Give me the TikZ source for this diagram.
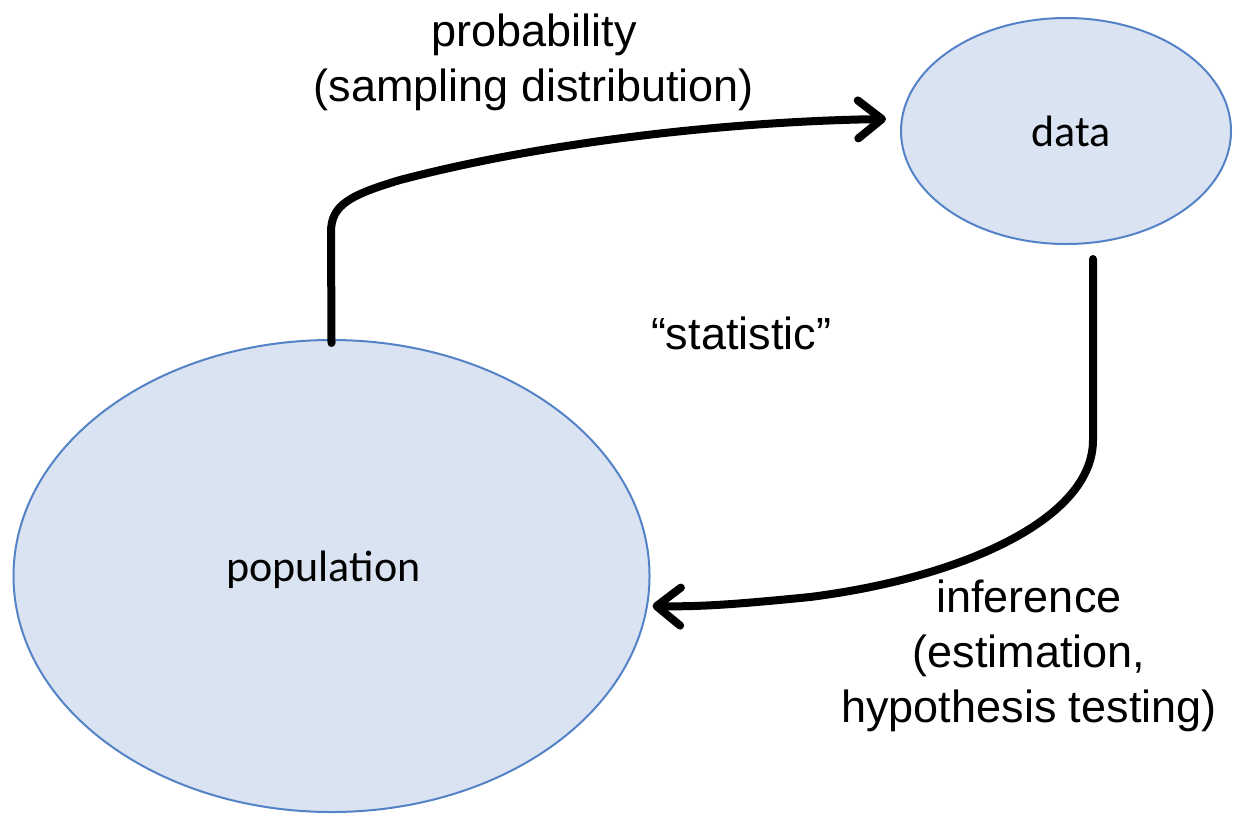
\documentclass[tikz,border=0pt]{standalone}
\usepackage{fontspec}
\setmainfont{Liberation Sans}
\newfontfamily\calib{Carlito}
\usetikzlibrary{shapes.geometric,arrows.meta}
\definecolor{ellfill}{RGB}{218,227,241}
\definecolor{elldraw}{RGB}{84,130,198}
\begin{document}
\begin{tikzpicture}[x=0.5pt,y=-0.5pt,
  blob/.style={ellipse,fill=ellfill,draw=elldraw,line width=1pt,inner sep=0pt,font=\calib\fontsize{22}{26}\selectfont},
  lbl/.style={align=center,inner sep=0pt,font=\fontsize{22.5}{27.5}\selectfont},
  conn/.style={line width=4pt,line cap=round,line join=round,-{Straight Barb[length=12pt,width=19pt,line cap=round,line join=round]}}]
\useasboundingbox (0,0) rectangle (1236,815);
\node[blob,minimum width=318pt,minimum height=236pt] (pop) at (331.5,576) {\raisebox{10pt}{population\hspace{8pt}}};
\node[blob,minimum width=165pt,minimum height=113pt] (data) at (1066,131) {\hspace{5pt}data};
\node[lbl] (prob) at (534,62) {probability\\(sampling distribution)};
\node[lbl] (stat) at (741,333) {“statistic”};
\node[lbl] (inf) at (1029,656) {inference\\(estimation,\\hypothesis testing)};
\coordinate (s1) at ([yshift=-2pt]pop.north);
\coordinate (e1) at ([xshift=-7pt,yshift=6pt]data.west);
\coordinate (s2) at ([xshift=13.5pt,yshift=-7pt]data.south);
\coordinate (e2) at ([xshift=1pt,yshift=-15pt]pop.east);
\draw[conn] (s1) -- (331,232) .. controls (331,205) and (350,195) .. (400,180) .. controls (560,138) and (750,121) .. (e1);
\draw[conn] (s2) -- (1093,440) .. controls (1093,520) and (960,578) .. (810,597) .. controls (740,604) and (700,607) .. (e2);
\end{tikzpicture}
\end{document}
